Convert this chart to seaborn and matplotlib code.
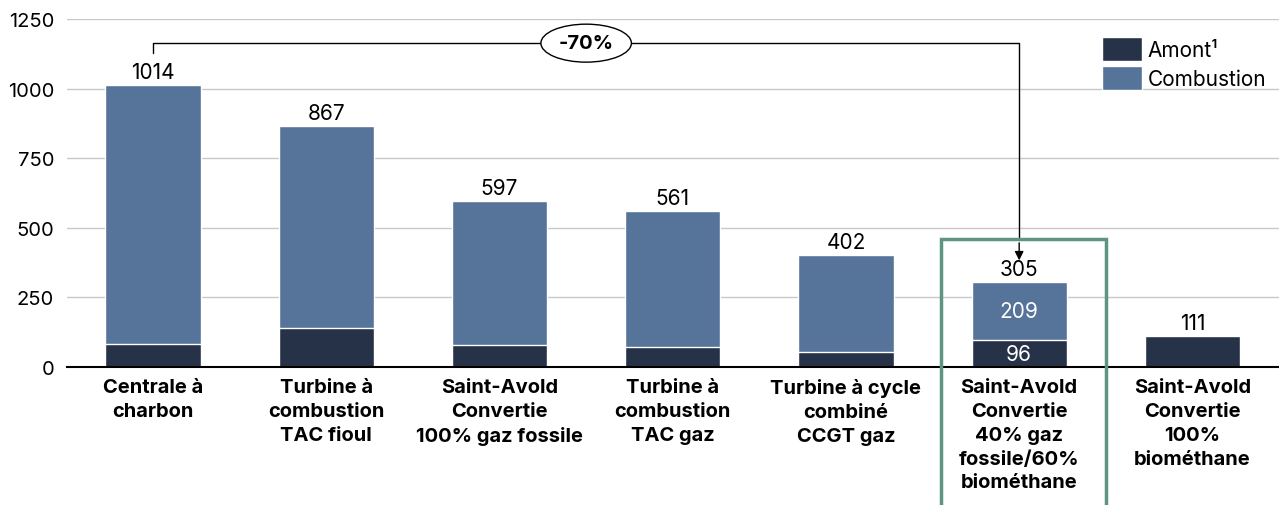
import numpy as np
import pandas as pd
import seaborn as sns
import matplotlib.pyplot as plt
from matplotlib.patches import Rectangle

categories = [
    "Centrale à\ncharbon",
    "Turbine à\ncombustion\nTAC fioul",
    "Saint-Avold\nConvertie\n100% gaz fossile",
    "Turbine à\ncombustion\nTAC gaz",
    "Turbine à cycle\ncombiné\nCCGT gaz",
    "Saint-Avold\nConvertie\n40% gaz\nfossile/60%\nbiométhane",
    "Saint-Avold\nConvertie\n100%\nbiométhane",
]
totals = [1014, 867, 597, 561, 402, 305, 111]
amont = [83, 141, 80, 73, 55, 96, 111]
combustion = [t - a for t, a in zip(totals, amont)]
yticks = [0, 250, 500, 750, 1000, 1250]

c_amont = "#263248"
c_comb = "#56739a"
c_green = "#5e9484"

sns.set_style("white")
plt.rcParams["font.family"] = ["Inter", "DejaVu Sans"]
plt.rcParams["text.color"] = "black"
plt.rcParams["xtick.color"] = "black"
plt.rcParams["ytick.color"] = "black"

df = pd.DataFrame({"cat": categories, "total": totals, "amont": amont})

fig, ax = plt.subplots(figsize=(12.79, 5.06), dpi=100)
fig.subplots_adjust(left=0.052, right=1.0, top=0.96, bottom=0.273)

sns.barplot(data=df, x="cat", y="total", color=c_comb, width=0.55,
            saturation=1, ax=ax, label="Combustion", zorder=3)
sns.barplot(data=df, x="cat", y="amont", color=c_amont, width=0.55,
            saturation=1, ax=ax, label="Amont¹", zorder=3)

ax.set_ylim(0, 1250)
ax.set_xlim(-0.5, 6.5)
ax.set_yticks(yticks)
ax.set_yticklabels([str(t) for t in yticks], fontsize=14.5)
ax.yaxis.grid(True, color="#c8c8c8", linewidth=1, zorder=0)
ax.set_axisbelow(True)
ax.tick_params(axis="y", length=0, pad=9)
ax.tick_params(axis="x", length=0, pad=8)
ax.set_xticks(range(len(categories)))
ax.set_xticklabels(categories, fontsize=14.5, fontweight="bold", linespacing=1.42,
                   va="top")
ax.set_xlabel("")
ax.set_ylabel("")
for s in ["top", "right", "left"]:
    ax.spines[s].set_visible(False)
ax.spines["bottom"].set_color("black")
ax.spines["bottom"].set_linewidth(1.5)
ax.spines["bottom"].set_zorder(4)

# totals above bars
for i, t in enumerate(totals):
    ax.text(i, t + 10, str(t), ha="center", va="bottom", fontsize=15)

# inside labels for highlighted bar
hi = 5
ax.text(hi, amont[hi] + combustion[hi] / 2, str(combustion[hi]), ha="center",
        va="center", color="white", fontsize=15, zorder=5)
ax.text(hi, amont[hi] / 2, str(amont[hi]), ha="center", va="center",
        color="white", fontsize=15, zorder=5)

# highlight box
ax.add_patch(Rectangle((hi - 0.45, -900), 0.95, totals[hi] + 155 + 900,
                       fill=False, edgecolor=c_green, linewidth=2.5,
                       clip_on=False, zorder=6))

# -70% bracket
ytop = totals[0] + 150
ax.plot([0, 0, hi, hi], [totals[0] + 115, ytop, ytop, totals[hi] + 150],
        color="black", linewidth=1, clip_on=False, zorder=5)
ax.annotate("", xy=(hi, totals[hi] + 68), xytext=(hi, totals[hi] + 151),
            arrowprops=dict(arrowstyle="-|>", color="black", lw=1,
                            mutation_scale=13), zorder=5)
pct = round((totals[hi] / totals[0] - 1) * 100)
ax.text(2.5, ytop, f"{pct}%", ha="center", va="center", fontsize=14.5,
        fontweight="bold", zorder=7,
        bbox=dict(boxstyle="ellipse,pad=0.22", fc="white", ec="black", lw=1))

handles, labels = ax.get_legend_handles_labels()
leg = ax.legend(handles[::-1], labels[::-1], loc="upper right",
                bbox_to_anchor=(1.0, 0.985), frameon=False, fontsize=15,
                handlelength=1.9, handleheight=1.4, handletextpad=0.3,
                labelspacing=0.25, borderaxespad=0.2)

plt.savefig("out.png", dpi=100)
